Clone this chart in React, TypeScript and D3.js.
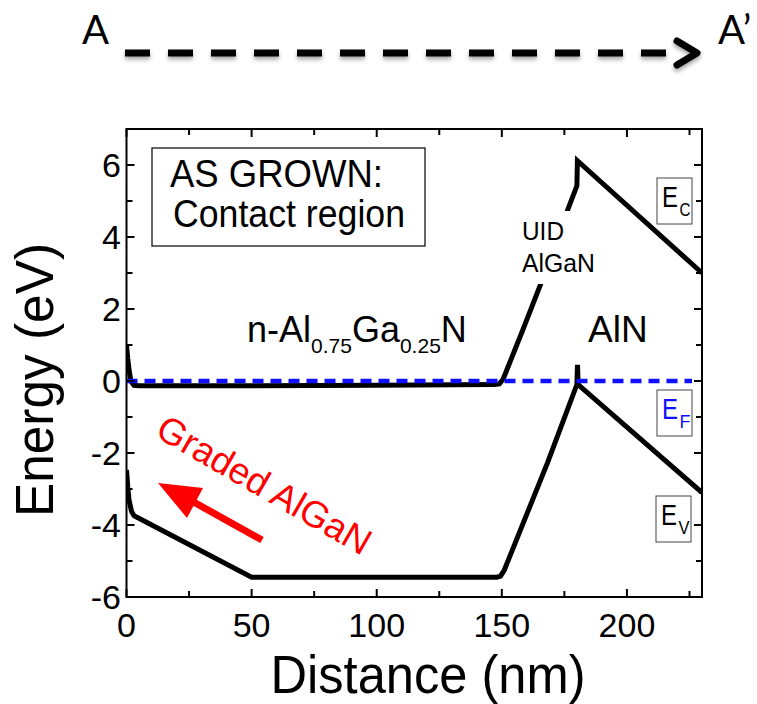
import React from "react";
import * as d3 from "d3";

// Conduction band edge E_C (distance nm, energy eV)
const ecDistance = [0, 0.5, 1, 1.5, 2, 3, 5, 50, 100, 147, 149, 150.5, 158.4, 165.4, 176.3, 180.0, 180.2, 230];
const ecEnergy = [1.0, 0.62, 0.32, 0.1, -0.03, -0.12, -0.13, -0.13, -0.12, -0.1, -0.08, 0.05, 1.42, 2.67, 4.75, 5.42, 6.12, 3.0];

// Valence band edge E_V
const evDistance = [0, 0.5, 1, 2, 3, 4, 50, 148, 149.5, 151, 168.2, 180.0, 180.25, 180.5, 230];
const evEnergy = [-2.47, -2.95, -3.3, -3.62, -3.74, -3.78, -5.45, -5.45, -5.42, -5.25, -2.28, -0.1, 0.45, -0.1, -3.1];

// Fermi level E_F
const efDistance = [0, 226];
const efEnergy = [0, 0];

const xMajorTicks = [0, 50, 100, 150, 200];
const xMinorTicks = [25, 75, 125, 175, 225];
const yMajorTicks = [-6, -4, -2, 0, 2, 4, 6];
const yMinorTicks = [-5, -3, -1, 1, 3, 5];

const FONT = "'Liberation Sans', Arial, sans-serif";

export default function App() {
  const W = 757;
  const H = 704;
  const L = 126.5, R = 702, T = 129, B = 597;
  const x = d3.scaleLinear().domain([0, 230]).range([L, R]);
  const y = d3.scaleLinear().domain([-6, 7]).range([B, T]);
  const mk = (xs: number[], ys: number[]) =>
    d3
      .line<[number, number]>()
      .x((d) => x(d[0]))
      .y((d) => y(d[1]))(xs.map((v, i) => [v, ys[i]] as [number, number])) || "";

  const ecPath = mk(ecDistance, ecEnergy);
  const evPath = mk(evDistance, evEnergy);
  const efPath = mk(efDistance, efEnergy);

  const majorLen = 8;
  const minorLen = 6;

  const bandLabel = (bx: number, by: number, sub: string, color: string) => (
    <g>
      <rect x={bx} y={by} width={35} height={46} fill="white" stroke="#444" strokeWidth={1} />
      <text x={bx + 5} y={by + 29} fontFamily={FONT} fontSize={30} fill={color} textLength={16} lengthAdjust="spacingAndGlyphs">
        E
      </text>
      <text x={bx + 22.5} y={by + 38} fontFamily={FONT} fontSize={19} fill={color} textLength={11} lengthAdjust="spacingAndGlyphs">
        {sub}
      </text>
    </g>
  );

  return (
    <svg
      width={W}
      height={H}
      viewBox={`0 0 ${W} ${H}`}
      style={{ position: "absolute", left: 0, top: 0, background: "white" }}
    >
      <defs>
        <filter id="shadow" x="-10%" y="-50%" width="120%" height="250%">
          <feDropShadow dx="0" dy="3" stdDeviation="2" floodColor="#000" floodOpacity="0.35" />
        </filter>
        <clipPath id="plotClip">
          <rect x={L} y={T} width={R - L} height={B - T} />
        </clipPath>
      </defs>
      <rect x={0} y={0} width={W} height={H} fill="white" />

      {/* Top A -> A' dashed arrow */}
      <g filter="url(#shadow)">
        <line x1={125} y1={53} x2={666} y2={53} stroke="black" strokeWidth={7} strokeDasharray="25 18" />
        <path d="M677,41 L697,53 L677,65" fill="none" stroke="black" strokeWidth={7} strokeLinejoin="round" strokeLinecap="round" />
      </g>
      <text x={82} y={44} fontFamily="Lato, 'Open Sans', sans-serif" fontSize={40} fill="black">A</text>
      <text x={718} y={44} fontFamily="Lato, 'Open Sans', sans-serif" fontSize={40} fill="black">A’</text>

      {/* Curves */}
      <g clipPath="url(#plotClip)">
        <path d={evPath} fill="none" stroke="black" strokeWidth={5} strokeLinejoin="miter" strokeMiterlimit={10} />
        <path d={ecPath} fill="none" stroke="black" strokeWidth={5} strokeLinejoin="miter" strokeMiterlimit={10} />
      </g>

      {/* UID AlGaN label with white background */}
      <rect x={517} y={211} width={82} height={73} fill="white" />
      <text x={522} y={240} fontFamily={FONT} fontSize={26} fill="black" textLength={42} lengthAdjust="spacingAndGlyphs">UID</text>
      <text x={522} y={272} fontFamily={FONT} fontSize={26} fill="black" textLength={73} lengthAdjust="spacingAndGlyphs">AlGaN</text>

      {/* Fermi level */}
      <path d={efPath} fill="none" stroke="#1010ff" strokeWidth={4.5} strokeDasharray="11 7" />

      {/* Frame */}
      <rect x={L} y={T} width={R - L} height={B - T} fill="none" stroke="black" strokeWidth={2} />

      {/* Ticks */}
      <g stroke="black" strokeWidth={2}>
        {xMajorTicks.map((t) => (
          <g key={"xM" + t}>
            <line x1={x(t)} x2={x(t)} y1={B} y2={B - majorLen} />
            <line x1={x(t)} x2={x(t)} y1={T} y2={T + majorLen} />
          </g>
        ))}
        {xMinorTicks.map((t) => (
          <g key={"xm" + t}>
            <line x1={x(t)} x2={x(t)} y1={B} y2={B - minorLen} />
            <line x1={x(t)} x2={x(t)} y1={T} y2={T + minorLen} />
          </g>
        ))}
        {yMajorTicks.map((t) => (
          <g key={"yM" + t}>
            <line x1={L} x2={L + majorLen} y1={y(t)} y2={y(t)} />
            <line x1={R} x2={R - majorLen} y1={y(t)} y2={y(t)} />
          </g>
        ))}
        {yMinorTicks.map((t) => (
          <g key={"ym" + t}>
            <line x1={L} x2={L + minorLen} y1={y(t)} y2={y(t)} />
            <line x1={R} x2={R - minorLen} y1={y(t)} y2={y(t)} />
          </g>
        ))}
      </g>

      {/* Tick labels */}
      {xMajorTicks.map((t) => (
        <text key={"xl" + t} x={x(t)} y={637} textAnchor="middle" fontFamily={FONT} fontSize={34} fill="black">
          {t}
        </text>
      ))}
      {yMajorTicks.map((t) => (
        <text key={"yl" + t} x={121} y={y(t) + 12} textAnchor="end" fontFamily={FONT} fontSize={34} fill="black">
          {t}
        </text>
      ))}

      {/* Axis titles */}
      <text x={428} y={693} textAnchor="middle" fontFamily={FONT} fontSize={53} fill="black" textLength={315} lengthAdjust="spacingAndGlyphs">
        Distance (nm)
      </text>
      <text
        transform="translate(53,380) rotate(-90)"
        textAnchor="middle"
        fontFamily={FONT}
        fontSize={53}
        fill="black"
        textLength={274}
        lengthAdjust="spacingAndGlyphs"
      >
        Energy (eV)
      </text>

      {/* Legend box */}
      <rect x={152} y={148} width={273} height={98} fill="white" stroke="black" strokeWidth={1.2} />
      <text x={170} y={187} fontFamily={FONT} fontSize={38} fill="black" textLength={213} lengthAdjust="spacingAndGlyphs">AS GROWN:</text>
      <text x={173} y={227} fontFamily={FONT} fontSize={38} fill="black" textLength={232} lengthAdjust="spacingAndGlyphs">Contact region</text>

      {/* Region labels */}
      <text x={247} y={342} fontFamily={FONT} fontSize={36} fill="black">
        n-Al
        <tspan fontSize={21} dy={11}>0.75</tspan>
        <tspan dy={-11}>Ga</tspan>
        <tspan fontSize={21} dy={11}>0.25</tspan>
        <tspan dy={-11}>N</tspan>
      </text>
      <text x={588} y={342} fontFamily={FONT} fontSize={37} fill="black">AlN</text>

      {/* Band labels */}
      {bandLabel(657, 178, "C", "black")}
      {bandLabel(657, 390, "F", "#1010ff")}
      {bandLabel(656, 496, "V", "black")}

      {/* Graded AlGaN annotation */}
      <text transform="translate(258,496) rotate(30)" textAnchor="middle" fontFamily={FONT} fontSize={37} fill="#ff0000">
        Graded AlGaN
      </text>
      <line x1={262} y1={540} x2={190} y2={500} stroke="#ff0000" strokeWidth={7} />
      <polygon points="158,483 203,488 187,518" fill="#ff0000" />
    </svg>
  );
}
